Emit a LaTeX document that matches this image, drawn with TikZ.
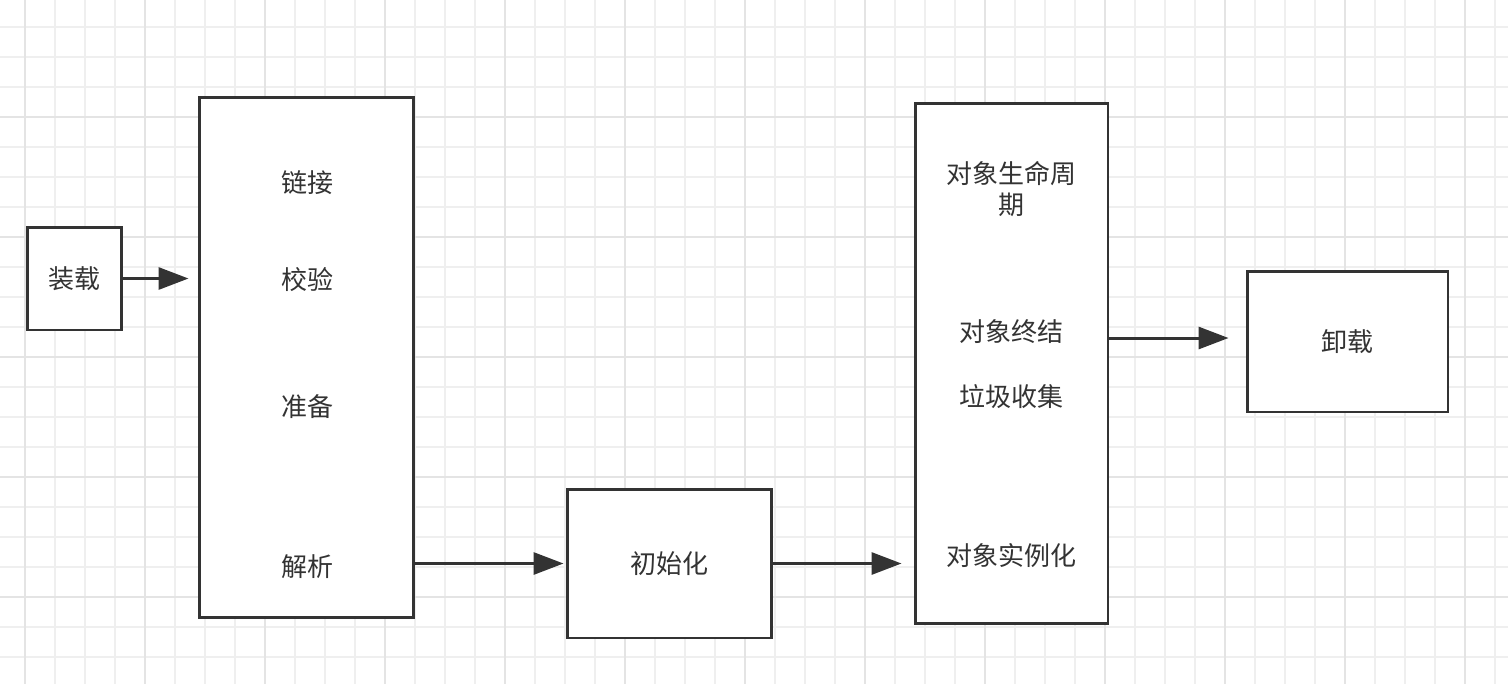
\documentclass[tikz,border=0pt]{standalone}
\usepackage{fontspec}
\setmainfont{Noto Sans CJK SC}
\usetikzlibrary{arrows.meta,positioning,calc}
\definecolor{ink}{HTML}{333333}
\definecolor{gridminor}{HTML}{EFEFEF}
\definecolor{gridmajor}{HTML}{E4E4E4}

\begin{document}
\begin{tikzpicture}[
  x=0.02cm, y=-0.02cm,
  box/.style={draw=ink, line width=1.7pt, fill=white, inner sep=0pt},
  txt/.style={text=ink, font=\fontsize{14.8pt}{18.2pt}\selectfont, align=center},
  arr/.style={-{Triangle[length=0.6cm, width=0.44cm]}, draw=ink, line width=1.7pt}
]
\useasboundingbox (0,0) rectangle (1508,684);

% --- Background grid ---
\foreach \gx in {25,55,...,1508}
  \draw[gridminor, line width=0.8pt] (\gx,0) -- (\gx,684);
\foreach \gy in {27,57,...,684}
  \draw[gridminor, line width=0.8pt] (0,\gy) -- (1508,\gy);
\foreach \gx in {25,145,...,1508}
  \draw[gridmajor, line width=0.9pt] (\gx,0) -- (\gx,684);
\foreach \gy in {-3,117,...,684}
  \draw[gridmajor, line width=0.9pt] (0,\gy) -- (1508,\gy);

% --- Stages ---
\node[box, minimum width=1.9cm, minimum height=2.06cm] (load) at (74.5,278.5) {};
\node[txt] at (load.center) {装载};

\node[box, minimum width=4.3cm, minimum height=10.42cm] (link) at (306.5,357.5) {};
\node[txt] (linktxt) at (307,183) {链接};
\node[txt] (verify) at (307,280) {校验};
\node[txt] (prepare) at (307,407) {准备};
\node[txt] (resolve) at (307,567) {解析};

\node[box, minimum width=4.1cm, minimum height=2.98cm] (init) at (669.5,563.5) {};
\node[txt] at (init.center) {初始化};

\node[box, minimum width=3.86cm, minimum height=10.42cm] (use) at (1011.5,363.5) {};
\node[txt] (life) at (1011,189) {对象生命周\\期};
\node[txt] (final) at (1011,332) {对象终结};
\node[txt] (gc) at (1011,397) {垃圾收集};
\node[txt] (inst) at (1011,556) {对象实例化};

\node[box, minimum width=4.02cm, minimum height=2.82cm] (unload) at (1347.5,341.5) {};
\node[txt] at (unload.center) {卸载};

% --- Arrows ---
\draw[arr, shorten >=0.18cm] (load.east) -- (load.east -| link.west);
\draw[arr, shorten >=0.04cm] (link.east |- init) -- (init.west);
\draw[arr, shorten >=0.24cm] (init.east) -- (init.east -| use.west);
\coordinate (useout) at ($(use.east)+(0,-25.5)$);
\draw[arr, shorten >=0.34cm] (useout) -- (useout -| unload.west);
\end{tikzpicture}
\end{document}
